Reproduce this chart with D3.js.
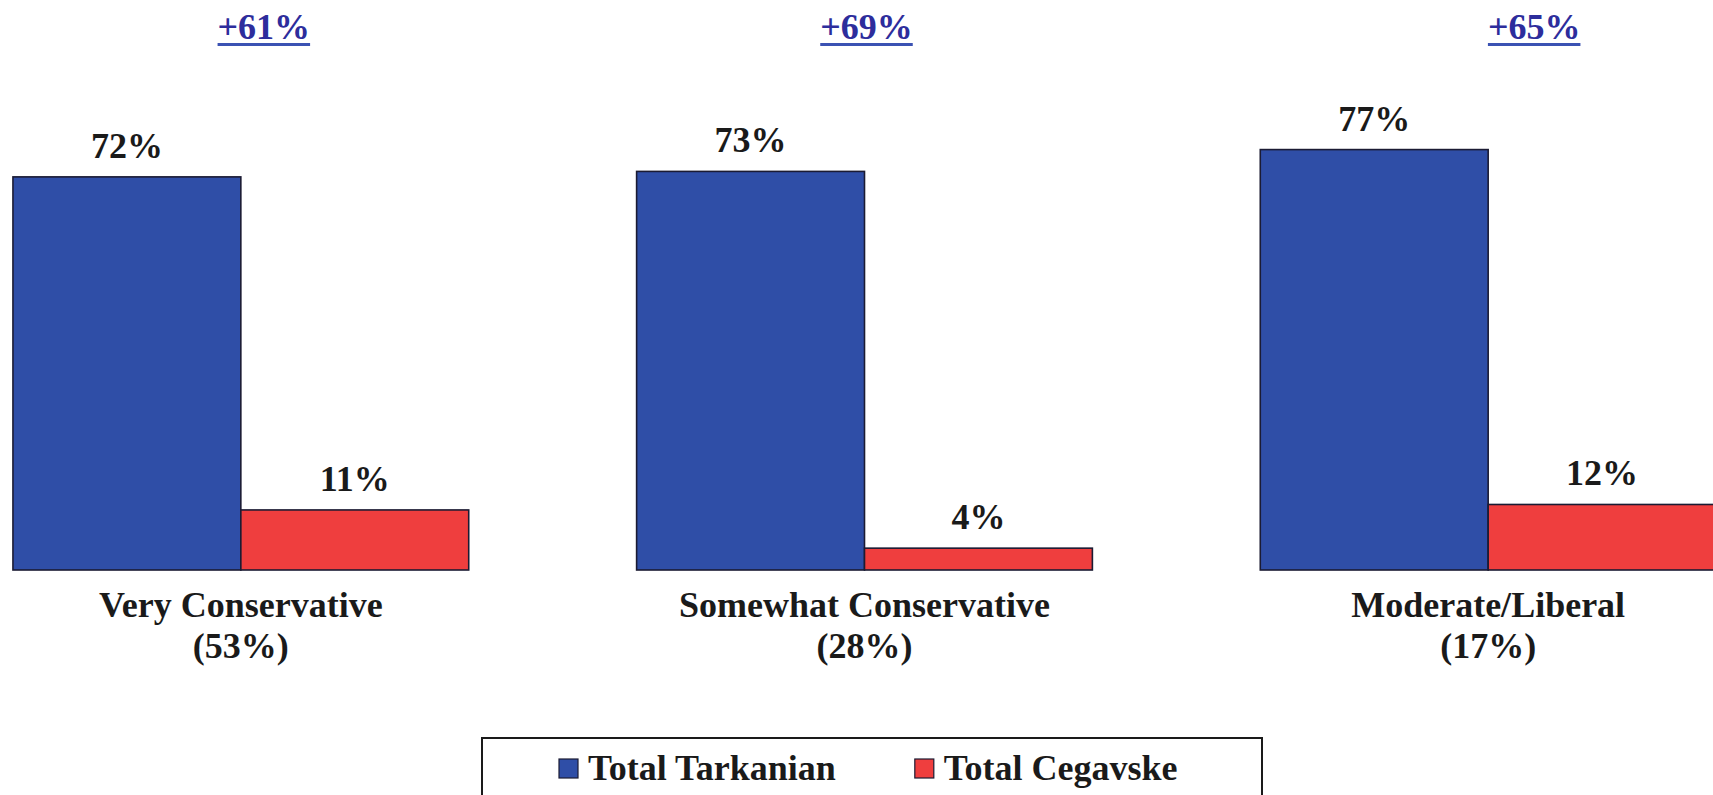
<!DOCTYPE html>
<html>
<head>
<meta charset="utf-8">
<script src="https://cdn.jsdelivr.net/npm/d3@7"></script>
<style>
  html, body { margin: 0; padding: 0; background: #fff; }
  svg { display: block; }
  text { font-family: "Liberation Serif", "Times New Roman", serif; font-weight: bold; }
</style>
</head>
<body>
<svg id="chart" width="1713" height="795"></svg>
<script>
// ---- Data ----
const categories = ["Very Conservative", "Somewhat Conservative", "Moderate/Liberal"];
const categoryShares = ["(53%)", "(28%)", "(17%)"];
const seriesNames = ["Total Tarkanian", "Total Cegavske"];
const tarkanian = [72, 73, 77];
const cegavske = [11, 4, 12];
const marginLabels = ["+61%", "+69%", "+65%"];

// ---- Layout / style ----
const W = 1713, H = 795;
const colors = ["#2F4EA7", "#EF3E3E"];
const svg = d3.select("#chart");

const x0 = d3.scaleBand()
  .domain(categories)
  .range([-71, 1800])
  .paddingInner(0.2692)
  .paddingOuter(0.1346);

const x1 = d3.scaleBand()
  .domain(seriesNames)
  .range([0, x0.bandwidth()])
  .padding(0);

const y = d3.scaleLinear().domain([0, 100]).range([570, 24]);

const color = d3.scaleOrdinal().domain(seriesNames).range(colors);

const rows = categories.map((c, i) => ({
  cat: c,
  share: categoryShares[i],
  margin: marginLabels[i],
  values: [
    { name: seriesNames[0], v: tarkanian[i] },
    { name: seriesNames[1], v: cegavske[i] }
  ]
}));

const groups = svg.selectAll("g.grp")
  .data(rows)
  .join("g")
  .attr("class", "grp")
  .attr("transform", d => `translate(${x0(d.cat)},0)`);

groups.selectAll("rect")
  .data(d => d.values)
  .join("rect")
  .attr("x", d => x1(d.name))
  .attr("y", d => y(d.v))
  .attr("width", x1.bandwidth())
  .attr("height", d => y(0) - y(d.v))
  .attr("fill", d => color(d.name))
  .attr("stroke", "#1b1b33")
  .attr("stroke-width", 1.6);

groups.selectAll("text.val")
  .data(d => d.values)
  .join("text")
  .attr("class", "val")
  .attr("x", d => x1(d.name) + x1.bandwidth() / 2)
  .attr("y", d => y(d.v) - 19)
  .attr("text-anchor", "middle")
  .attr("font-size", 36)
  .attr("fill", "#1a1a1a")
  .text(d => d.v + "%");

// category labels
groups.append("text")
  .attr("x", x0.bandwidth() / 2)
  .attr("y", 617)
  .attr("text-anchor", "middle")
  .attr("font-size", 36)
  .attr("fill", "#1a1a1a")
  .text(d => d.cat);
groups.append("text")
  .attr("x", x0.bandwidth() / 2)
  .attr("y", 658)
  .attr("text-anchor", "middle")
  .attr("font-size", 36)
  .attr("fill", "#1a1a1a")
  .text(d => d.share);

// margin annotations (placed as text boxes, slightly right of group centre)
const marginNudge = [23, 2, 46];
groups.each(function (d, i) {
  const g = d3.select(this);
  const t = g.append("text")
    .attr("x", x0.bandwidth() / 2 + marginNudge[i])
    .attr("y", 39)
    .attr("text-anchor", "middle")
    .attr("font-size", 36)
    .attr("fill", "#2D2D9C")
    .text(d.margin);
  const bb = t.node().getBBox();
  g.append("rect")
    .attr("x", bb.x)
    .attr("y", 43)
    .attr("width", bb.width)
    .attr("height", 3)
    .attr("fill", "#3B52B3");
});

// legend
const legend = svg.append("g");
legend.append("rect")
  .attr("x", 482).attr("y", 738)
  .attr("width", 780).attr("height", 80)
  .attr("fill", "#fff")
  .attr("stroke", "#1a1a1a")
  .attr("stroke-width", 2);

let lx = 559;
seriesNames.forEach((name, i) => {
  legend.append("rect")
    .attr("x", lx).attr("y", 759)
    .attr("width", 19).attr("height", 19)
    .attr("fill", color(name))
    .attr("stroke", "#1b1b33")
    .attr("stroke-width", 1.2);
  const t = legend.append("text")
    .attr("x", lx + 29).attr("y", 780)
    .attr("font-size", 36)
    .attr("fill", "#1a1a1a")
    .text(name);
  lx = lx + 29 + t.node().getComputedTextLength() + 79;
});
</script>
</body>
</html>
